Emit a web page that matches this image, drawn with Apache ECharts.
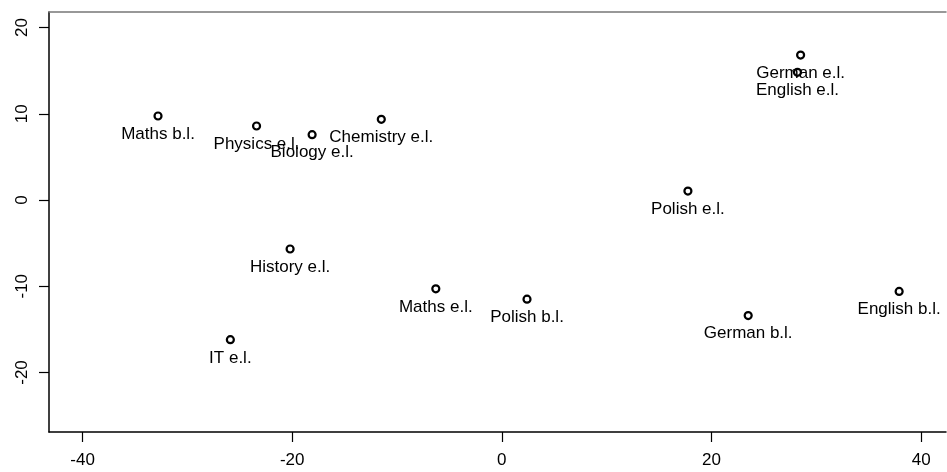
<!DOCTYPE html>
<html>
<head>
<meta charset="utf-8">
<script src="https://cdn.jsdelivr.net/npm/echarts@6/dist/echarts.min.js"></script>
<style>
  html, body { margin: 0; padding: 0; background: #fff; }
  #chart { width: 947px; height: 472px; }
</style>
</head>
<body>
<div id="chart"></div>
<script>
  // subjects and their coordinates
  var names = ['Maths b.l.', 'Physics e.l.', 'Biology e.l.', 'Chemistry e.l.', 'History e.l.', 'IT e.l.',
               'Maths e.l.', 'Polish b.l.', 'Polish e.l.', 'German e.l.', 'English e.l.', 'German b.l.', 'English b.l.']
  var xs = [-32.8, -23.4, -18.1, -11.5, -20.2, -25.9, -6.3, 2.4, 17.75, 28.5, 28.2, 23.5, 37.9]
  var ys = [9.74, 8.58, 7.58, 9.36, -5.68, -16.2, -10.3, -11.5, 1.04, 16.8, 14.8, -13.4, -10.6]
  var xTicks = [-40, -20, 0, 20, 40]
  var yTicks = [-20, -10, 0, 10, 20]

  var points = names.map(function (n, i) {
    return { name: n, value: [xs[i], ys[i]] }
  })

  var font = 'Liberation Sans, Arial, sans-serif'
  var xMin = -43.2, xMax = 42.37
  var chart = echarts.init(document.getElementById('chart'))
  chart.setOption({
    animation: false,
    // the plot box is cut off on the right, so no right border
    grid: { left: 49, top: 12, bottom: 40, right: 1 },
    xAxis: [{
      type: 'value',
      min: xMin, max: xMax,
      splitLine: { show: false },
      axisLine: { show: true, onZero: false, lineStyle: { color: '#000', width: 1.5 } },
      axisTick: { show: true, length: 10, customValues: xTicks, lineStyle: { color: '#000', width: 1.2 } },
      axisLabel: { customValues: xTicks, margin: 20, color: '#000', fontSize: 17, fontFamily: font }
    }, {
      // top edge of the box
      type: 'value', position: 'top',
      min: xMin, max: xMax,
      splitLine: { show: false },
      axisLine: { show: true, onZero: false, lineStyle: { color: '#777', width: 1.5 } },
      axisTick: { show: false },
      axisLabel: { show: false }
    }],
    yAxis: {
      type: 'value',
      min: -26.9, max: 21.8,
      splitLine: { show: false },
      axisLine: { show: true, onZero: false, lineStyle: { color: '#000', width: 1.5 } },
      axisTick: { show: true, length: 10, customValues: yTicks, lineStyle: { color: '#000', width: 1.2 } },
      axisLabel: { customValues: yTicks, rotate: 90, margin: 18, color: '#000', fontSize: 17, fontFamily: font }
    },
    series: [{
      type: 'scatter',
      symbol: 'circle',
      symbolSize: 7,
      itemStyle: { color: '#fff', borderColor: '#000', borderWidth: 2.2, opacity: 1 },
      label: {
        show: true, position: 'bottom', distance: 5,
        formatter: '{b}', color: '#000', fontSize: 17, fontFamily: font
      },
      data: points
    }]
  })
</script>
</body>
</html>
